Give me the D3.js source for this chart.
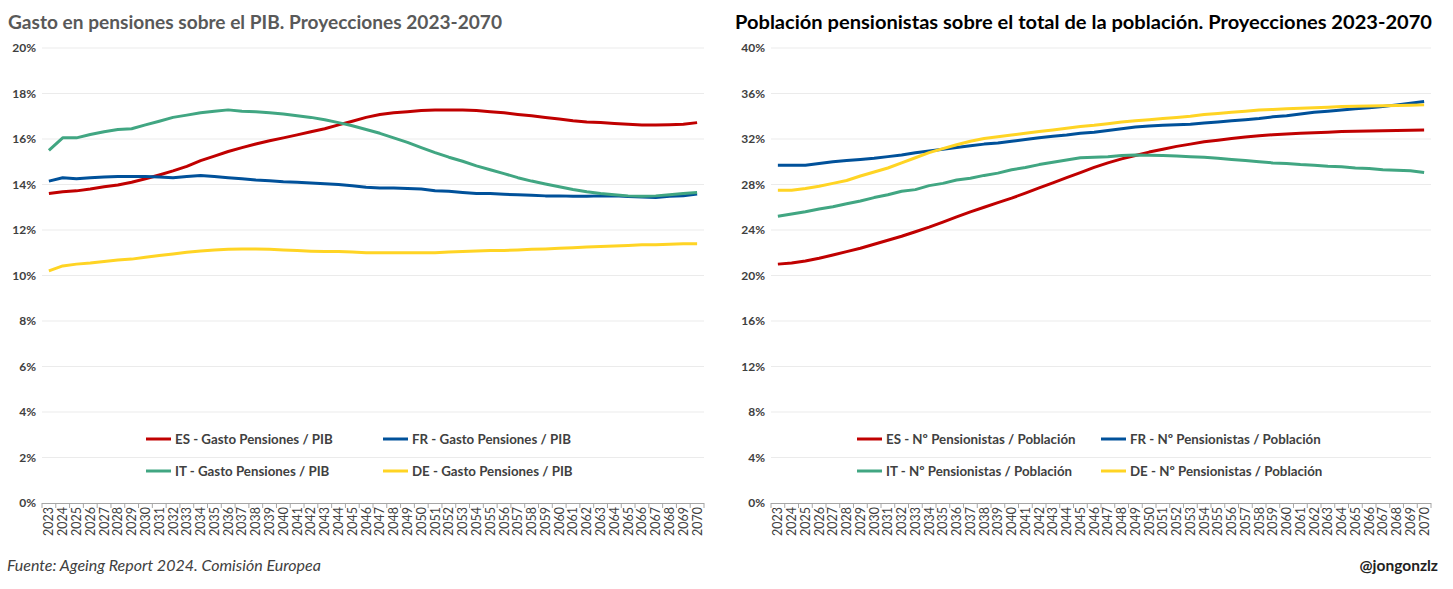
<!DOCTYPE html>
<html>
<head>
<meta charset="utf-8">
<script src="https://cdn.jsdelivr.net/npm/d3@7"></script>
<style>
  body { margin: 0; background: #fff; }
  svg { font-family: Lato, "Open Sans", sans-serif; }
</style>
</head>
<body>
<svg id="chart" width="1453" height="589"></svg>
<script>
const years = d3.range(2023, 2071);

// Gasto en pensiones / PIB (%)
const gastoES = [13.60, 13.68, 13.72, 13.80, 13.90, 13.98, 14.10, 14.25, 14.42, 14.60,
  14.80, 15.05, 15.25, 15.45, 15.62, 15.78, 15.92, 16.05, 16.18, 16.32,
  16.45, 16.62, 16.78, 16.95, 17.08, 17.15, 17.20, 17.25, 17.28, 17.28,
  17.27, 17.25, 17.20, 17.15, 17.08, 17.02, 16.95, 16.88, 16.80, 16.75,
  16.72, 16.68, 16.65, 16.62, 16.62, 16.63, 16.65, 16.72];
const gastoFR = [14.15, 14.30, 14.25, 14.30, 14.33, 14.35, 14.35, 14.35, 14.33, 14.30,
  14.35, 14.40, 14.35, 14.30, 14.25, 14.20, 14.17, 14.12, 14.10, 14.07,
  14.03, 14.00, 13.95, 13.88, 13.85, 13.85, 13.82, 13.80, 13.73, 13.70,
  13.65, 13.60, 13.60, 13.57, 13.55, 13.53, 13.50, 13.50, 13.48, 13.48,
  13.50, 13.50, 13.47, 13.45, 13.43, 13.48, 13.50, 13.58];
const gastoIT = [15.50, 16.05, 16.05, 16.20, 16.32, 16.42, 16.45, 16.62, 16.78, 16.95,
  17.05, 17.15, 17.22, 17.28, 17.22, 17.20, 17.15, 17.10, 17.02, 16.95,
  16.85, 16.72, 16.58, 16.42, 16.25, 16.05, 15.85, 15.62, 15.40, 15.20,
  15.02, 14.82, 14.65, 14.48, 14.30, 14.15, 14.02, 13.90, 13.78, 13.68,
  13.60, 13.55, 13.50, 13.48, 13.50, 13.55, 13.60, 13.65];
const gastoDE = [10.20, 10.42, 10.50, 10.55, 10.62, 10.68, 10.72, 10.80, 10.88, 10.95,
  11.02, 11.08, 11.12, 11.15, 11.17, 11.17, 11.15, 11.12, 11.10, 11.07,
  11.05, 11.05, 11.03, 11.00, 11.00, 11.00, 11.00, 11.00, 11.00, 11.03,
  11.05, 11.08, 11.10, 11.10, 11.12, 11.15, 11.17, 11.20, 11.22, 11.25,
  11.27, 11.30, 11.32, 11.35, 11.35, 11.37, 11.40, 11.40];

// Nº pensionistas / población (%)
const pobES = [21.00, 21.10, 21.28, 21.52, 21.80, 22.10, 22.40, 22.75, 23.10, 23.45,
  23.85, 24.25, 24.70, 25.15, 25.60, 26.00, 26.40, 26.80, 27.25, 27.70,
  28.15, 28.60, 29.05, 29.50, 29.90, 30.25, 30.55, 30.85, 31.10, 31.35,
  31.55, 31.75, 31.90, 32.05, 32.18, 32.28, 32.38, 32.45, 32.50, 32.55,
  32.60, 32.65, 32.68, 32.70, 32.72, 32.75, 32.78, 32.80];
const pobFR = [29.70, 29.70, 29.70, 29.85, 30.00, 30.10, 30.20, 30.30, 30.45, 30.60,
  30.80, 30.95, 31.10, 31.25, 31.40, 31.55, 31.65, 31.80, 31.95, 32.10,
  32.25, 32.35, 32.50, 32.60, 32.75, 32.90, 33.05, 33.15, 33.20, 33.25,
  33.30, 33.40, 33.50, 33.60, 33.70, 33.80, 33.95, 34.05, 34.20, 34.35,
  34.45, 34.55, 34.65, 34.75, 34.85, 35.00, 35.15, 35.30];
const pobIT = [25.20, 25.40, 25.60, 25.85, 26.05, 26.30, 26.55, 26.85, 27.10, 27.40,
  27.55, 27.90, 28.10, 28.40, 28.55, 28.80, 29.00, 29.30, 29.50, 29.75,
  29.95, 30.15, 30.35, 30.40, 30.45, 30.55, 30.60, 30.58, 30.55, 30.50,
  30.45, 30.40, 30.30, 30.20, 30.10, 30.00, 29.90, 29.85, 29.75, 29.70,
  29.60, 29.55, 29.45, 29.40, 29.30, 29.25, 29.20, 29.05];
const pobDE = [27.50, 27.50, 27.65, 27.85, 28.10, 28.35, 28.75, 29.10, 29.45, 29.90,
  30.35, 30.80, 31.15, 31.50, 31.80, 32.05, 32.20, 32.35, 32.50, 32.65,
  32.80, 32.95, 33.10, 33.20, 33.35, 33.50, 33.60, 33.70, 33.80, 33.90,
  34.00, 34.15, 34.25, 34.35, 34.45, 34.55, 34.60, 34.65, 34.70, 34.75,
  34.80, 34.85, 34.88, 34.90, 34.93, 34.95, 34.97, 35.00];

const colors = { ES: '#C00000', FR: '#00519A', IT: '#41A682', DE: '#FFD424' };
const txt = '#404040';
const svg = d3.select('#chart');

function panel(opt) {
  const x = d3.scalePoint().domain(years).range([opt.x0, opt.x1]).padding(0.5);
  const y = d3.scaleLinear().domain([0, opt.max]).range([503, 48]);
  const g = svg.append('g');

  // gridlines
  g.selectAll('.grid').data(d3.range(opt.step, opt.max + 0.01, opt.step)).join('line')
    .attr('x1', opt.x0).attr('x2', opt.x1)
    .attr('y1', d => y(d)).attr('y2', d => y(d))
    .attr('stroke', '#ebebeb').attr('stroke-width', 1);

  // y labels
  g.selectAll('.yl').data(d3.range(0, opt.max + 0.01, opt.step)).join('text')
    .attr('x', opt.x0 - 6).attr('y', d => y(d) + 4)
    .attr('text-anchor', 'end').attr('font-size', 12).attr('font-weight', 700)
    .attr('fill', txt).text(d => d + '%');

  // x axis
  const step = x.step();
  g.append('line').attr('x1', opt.x0).attr('x2', opt.x1).attr('y1', 503.5).attr('y2', 503.5)
    .attr('stroke', '#a6a6a6');
  g.selectAll('.xt').data(d3.range(years.length + 1)).join('line')
    .attr('x1', i => opt.x0 + i * step).attr('x2', i => opt.x0 + i * step)
    .attr('y1', 503).attr('y2', 508).attr('stroke', '#a6a6a6');
  g.selectAll('.xl').data(years).join('text')
    .attr('transform', d => `translate(${x(d) + 4.5},507) rotate(-90)`)
    .attr('text-anchor', 'end').attr('font-size', 12.5).attr('fill', txt).text(d => d);

  // legend (drawn before lines so lines sit on top)
  const leg = g.selectAll('.leg').data(opt.series).join('g')
    .attr('transform', (d, i) => `translate(${opt.legX[i % 2]},${i < 2 ? 439 : 471})`);
  leg.append('line').attr('x1', 0).attr('x2', 25).attr('stroke', d => colors[d.k]).attr('stroke-width', 3);
  leg.append('text').attr('x', 29).attr('y', 4.5).attr('font-size', 13.3).attr('font-weight', 700)
    .attr('fill', txt).text(d => d.label);

  const line = d3.line().x((d, i) => x(years[i])).y(d => y(d));
  g.selectAll('.series').data(opt.series).join('path')
    .attr('d', d => line(d.v)).attr('fill', 'none')
    .attr('stroke', d => colors[d.k]).attr('stroke-width', 3).attr('stroke-linejoin', 'round');

  svg.append('text').attr('x', opt.titleX).attr('y', 29).attr('font-size', 19.5).attr('font-weight', 700)
    .attr('textLength', opt.titleW).attr('lengthAdjust', 'spacingAndGlyphs')
    .attr('fill', opt.titleColor).text(opt.title);
}

panel({
  x0: 42, x1: 704, max: 20, step: 2, titleX: 8, titleW: 494, titleColor: '#595959',
  title: 'Gasto en pensiones sobre el PIB. Proyecciones 2023-2070',
  legX: [146, 383],
  series: [
    { k: 'ES', v: gastoES, label: 'ES - Gasto Pensiones / PIB' },
    { k: 'FR', v: gastoFR, label: 'FR - Gasto Pensiones / PIB' },
    { k: 'IT', v: gastoIT, label: 'IT - Gasto Pensiones / PIB' },
    { k: 'DE', v: gastoDE, label: 'DE - Gasto Pensiones / PIB' }
  ]
});

panel({
  x0: 771, x1: 1431, max: 40, step: 4, titleX: 735, titleW: 697, titleColor: '#000',
  title: 'Población pensionistas sobre el total de la población. Proyecciones 2023-2070',
  legX: [857, 1101],
  series: [
    { k: 'ES', v: pobES, label: 'ES - Nº Pensionistas / Población' },
    { k: 'FR', v: pobFR, label: 'FR - Nº Pensionistas / Población' },
    { k: 'IT', v: pobIT, label: 'IT - Nº Pensionistas / Población' },
    { k: 'DE', v: pobDE, label: 'DE - Nº Pensionistas / Población' }
  ]
});

svg.append('text').attr('x', 7).attr('y', 571).attr('font-size', 16).attr('font-style', 'italic')
  .attr('fill', txt).text('Fuente: Ageing Report 2024. Comisión Europea');
svg.append('text').attr('x', 1438).attr('y', 571).attr('font-size', 15.5).attr('font-weight', 700)
  .attr('text-anchor', 'end').attr('fill', '#222').text('@jongonzlz');
</script>
</body>
</html>
